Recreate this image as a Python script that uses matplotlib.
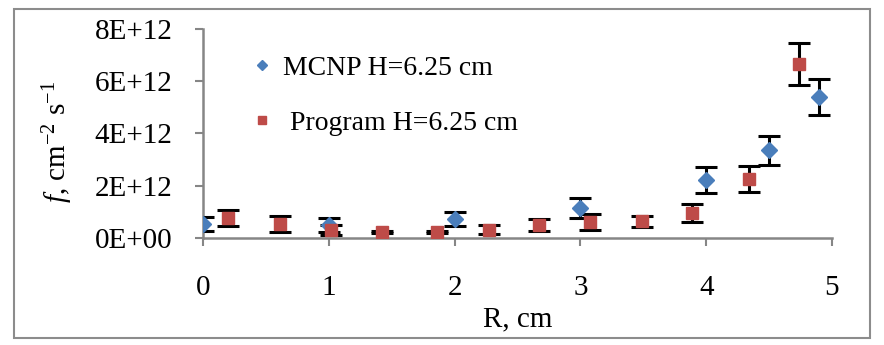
import matplotlib
matplotlib.use("Agg")
import matplotlib.pyplot as plt
from matplotlib.patches import Rectangle
from matplotlib.lines import Line2D

plt.rcParams['font.family'] = ['Liberation Serif', 'DejaVu Serif']
plt.rcParams['mathtext.fontset'] = 'custom'
plt.rcParams['mathtext.rm'] = 'Liberation Serif'
plt.rcParams['mathtext.it'] = 'Liberation Serif:italic'

# MCNP H=6.25 cm
mcnp_r = [0.0, 1.0, 2.0, 3.0, 4.0, 4.5, 4.9]
mcnp_f = [0.52e12, 0.48e12, 0.70e12, 1.15e12, 2.22e12, 3.35e12, 5.40e12]
mcnp_err = [0.27e12, 0.27e12, 0.27e12, 0.38e12, 0.50e12, 0.55e12, 0.70e12]

# Program H=6.25 cm
prog_r = [0.2, 0.61, 1.02, 1.42, 1.86, 2.27, 2.67, 3.08, 3.49, 3.89, 4.34, 4.74]
prog_f = [0.75e12, 0.52e12, 0.30e12, 0.22e12, 0.22e12, 0.30e12, 0.50e12, 0.60e12, 0.63e12, 0.95e12, 2.25e12, 6.65e12]
prog_err = [0.30e12, 0.30e12, 0.18e12, 0.03e12, 0.03e12, 0.17e12, 0.23e12, 0.30e12, 0.22e12, 0.33e12, 0.50e12, 0.80e12]

xticks = [0, 1, 2, 3, 4, 5]
yticks = [0, 2e12, 4e12, 6e12, 8e12]
ytick_labels = ['0E+00', '2E+12', '4E+12', '6E+12', '8E+12']

fig = plt.figure(figsize=(8.84, 3.45), dpi=100)
fig.patches.append(Rectangle((14/884, 1-338/345), (870-14)/884, (338-9)/345,
                             transform=fig.transFigure, fill=False,
                             edgecolor='#8c8c8c', linewidth=1.5))

ax = fig.add_axes([203/884, 1-237.7/345, (832-203)/884, (237.7-29)/345])

ax.errorbar(mcnp_r, mcnp_f, yerr=mcnp_err, fmt='D', color='#4a7ebb', markersize=8,
            ecolor='black', elinewidth=2.2, capsize=8, capthick=2.2,
            label='MCNP H=6.25 cm', zorder=3)
ax.errorbar(prog_r, prog_f, yerr=prog_err, fmt='s', color='#be4b48', markersize=9,
            ecolor='black', elinewidth=2.2, capsize=8, capthick=2.2,
            label=' Program H=6.25 cm', zorder=3)

ax.set_xlim(0, 5)
ax.set_ylim(0, 8e12)
ax.set_xticks(xticks)
ax.set_xticklabels([str(t) for t in xticks])
ax.set_yticks(yticks)
ax.set_yticklabels(ytick_labels)

for s in ['top', 'right']:
    ax.spines[s].set_visible(False)
for s in ['left', 'bottom']:
    ax.spines[s].set_color('#868686')
    ax.spines[s].set_linewidth(1.8)

ax.tick_params(axis='y', direction='out', length=6, width=1.5, color='#868686',
               labelsize=21, pad=16)
ax.tick_params(axis='x', direction='out', length=6, width=1.5, color='#868686',
               labelsize=21, pad=21)

ax.set_xlabel('R, cm', fontsize=21)
ax.xaxis.set_label_coords(0.5, -0.33)
ax.set_ylabel('$f$, cm$^{-2}$ s$^{-1}$', fontsize=21)
ax.yaxis.set_label_coords(-0.203, 0.46)

h1 = Line2D([], [], marker='D', color='#4a7ebb', linestyle='none', markersize=5)
h2 = Line2D([], [], marker='s', color='#be4b48', linestyle='none', markersize=6)
ax.legend([h1, h2], ['MCNP H=6.25 cm', ' Program H=6.25 cm'], loc='upper left',
          bbox_to_anchor=(0.052, 0.965), frameon=False, fontsize=20,
          handlelength=0.5, handletextpad=0.5, labelspacing=1.05,
          borderpad=0.2)

fig.savefig('out.png', dpi=100)
